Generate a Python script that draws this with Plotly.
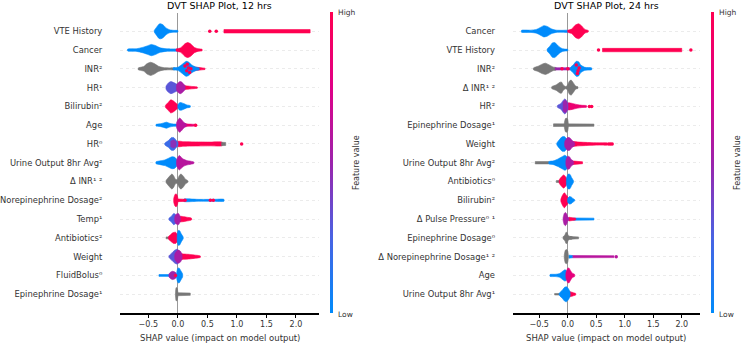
import plotly.graph_objects as go
from plotly.colors import sample_colorscale

W, H = 741, 347
FONT = "DejaVu Sans"
SCALE = [[0, 'rgb(0,139,251)'], [0.25, 'rgb(73,99,227)'], [0.5, 'rgb(156,35,172)'],
         [0.75, 'rgb(224,0,135)'], [1, 'rgb(255,0,81)']]
GRAY = 'rgb(119,119,119)'

tick_vals = [-0.5, 0.0, 0.5, 1.0, 1.5, 2.0]
tick_text = ['\u22120.5', '0.0', '0.5', '1.0', '1.5', '2.0']

# ---------------- 12 hrs ----------------
features_12 = ["VTE History", "Cancer", "INR²", "HR¹", "Bilirubin²", "Age", "HR⁰",
               "Urine Output 8hr Avg²", "Δ INR¹ ²", "Norepinephrine Dosage²", "Temp¹",
               "Antibiotics²", "Weight", "FluidBolus⁰", "Epinephrine Dosage¹"]

# blobs: (feature value colour 0..1 or None=gray, shap x knots, half-height knots)
blobs_12 = [
    [(0, [-0.40, -0.36, -0.32, -0.29, -0.25, -0.20, -0.14, -0.07, 0.0], [0.04, 0.22, 0.38, 0.40, 0.34, 0.18, 0.08, 0.05, 0.04]),
     (1, [0.78, 2.24], [0.09, 0.09])],
    [(0, [-0.85, -0.70, -0.60, -0.52, -0.45, -0.38, -0.30, -0.20, -0.10, 0.0], [0.05, 0.07, 0.14, 0.22, 0.30, 0.24, 0.12, 0.07, 0.06, 0.05]),
     (1, [-0.03, 0.05, 0.12, 0.17, 0.22, 0.28, 0.34, 0.41], [0.05, 0.12, 0.34, 0.40, 0.32, 0.14, 0.07, 0.04])],
    [(None, [-0.67, -0.58, -0.52, -0.46, -0.40, -0.33, -0.25, -0.15, -0.05], [0.05, 0.12, 0.28, 0.35, 0.28, 0.14, 0.07, 0.05, 0.05]),
     (1, [0.25, 0.33, 0.42, 0.46], [0.10, 0.08, 0.05, 0.03]),
     (0, [-0.08, 0.0, 0.08, 0.14, 0.18, 0.23, 0.30, 0.36], [0.05, 0.08, 0.26, 0.40, 0.36, 0.22, 0.10, 0.05])],
    [(0.3, [-0.20, -0.16, -0.12, -0.08, -0.04, 0.0], [0.08, 0.25, 0.32, 0.28, 0.22, 0.15]),
     (1, [0.08, 0.15, 0.25, 0.33], [0.12, 0.09, 0.06, 0.03]),
     (0.55, [-0.02, 0.02, 0.05, 0.09, 0.12], [0.15, 0.30, 0.32, 0.22, 0.10])],
    [(1, [-0.21, -0.16, -0.12, -0.08, -0.04, 0.0], [0.05, 0.22, 0.35, 0.30, 0.20, 0.08]),
     (0, [0.0, 0.03, 0.06, 0.10, 0.15, 0.21], [0.08, 0.20, 0.20, 0.15, 0.08, 0.04])],
    [(0, [-0.37, -0.30, -0.24, -0.19, -0.14, -0.08, 0.0], [0.04, 0.07, 0.12, 0.16, 0.10, 0.06, 0.05]),
     (0.85, [0.10, 0.18, 0.26, 0.32], [0.08, 0.06, 0.05, 0.03]),
     (0.6, [-0.02, 0.01, 0.03, 0.06, 0.10, 0.14], [0.15, 0.32, 0.38, 0.30, 0.15, 0.06])],
    [(1, [0.0, 0.10, 0.30, 0.55, 0.75], [0.14, 0.12, 0.11, 0.10, 0.09]),
     (None, [0.74, 0.81], [0.09, 0.08]),
     (0.2, [-0.22, -0.16, -0.11, -0.07, -0.03, 0.0], [0.05, 0.18, 0.34, 0.34, 0.20, 0.10]),
     (0.45, [-0.12, -0.07, -0.03], [0.15, 0.22, 0.12])],
    [(0, [-0.37, -0.30, -0.22, -0.15, -0.10, -0.06, -0.02], [0.05, 0.10, 0.15, 0.25, 0.32, 0.30, 0.18]),
     (0.6, [-0.02, 0.01, 0.03, 0.06, 0.10, 0.15, 0.22, 0.27], [0.15, 0.35, 0.38, 0.28, 0.18, 0.12, 0.08, 0.04])],
    [(None, [-0.20, -0.15, -0.10, -0.07, -0.04, -0.01, 0.02, 0.05, 0.09, 0.13, 0.17], [0.05, 0.25, 0.40, 0.30, 0.12, 0.10, 0.30, 0.40, 0.30, 0.12, 0.04])],
    [(0, [0.10, 0.35, 0.60, 0.78], [0.06, 0.05, 0.05, 0.05]),
     (1, [0.0, 0.05, 0.10], [0.07, 0.06, 0.06]),
     (1, [-0.07, -0.05, -0.03, -0.01, 0.0], [0.10, 0.30, 0.35, 0.25, 0.10])],
    [(0.25, [-0.15, -0.11, -0.07, -0.04, -0.01], [0.05, 0.15, 0.30, 0.25, 0.12]),
     (1, [0.02, 0.08, 0.15, 0.23], [0.14, 0.14, 0.10, 0.05]),
     (0.55, [-0.05, -0.02, 0.01, 0.04], [0.15, 0.28, 0.30, 0.12])],
    [(None, [-0.20, -0.15], [0.05, 0.05]),
     (1, [-0.16, -0.12, -0.08, -0.04, 0.0], [0.06, 0.18, 0.28, 0.30, 0.15]),
     (0, [-0.01, 0.01, 0.03, 0.06, 0.09], [0.20, 0.40, 0.38, 0.20, 0.05])],
    [(0.3, [-0.15, -0.10, -0.05, -0.01, 0.02, 0.05], [0.05, 0.20, 0.35, 0.40, 0.30, 0.12]),
     (1, [0.03, 0.10, 0.20, 0.30, 0.38], [0.16, 0.14, 0.12, 0.08, 0.04]),
     (0.55, [-0.05, 0.0, 0.04, 0.07], [0.15, 0.35, 0.30, 0.12])],
    [(0, [-0.32, -0.22, -0.14], [0.05, 0.05, 0.05]),
     (0.5, [-0.15, -0.12, -0.09, -0.05, -0.02], [0.08, 0.18, 0.22, 0.18, 0.08]),
     (0, [-0.02, 0.0, 0.02, 0.05, 0.08], [0.15, 0.38, 0.40, 0.25, 0.08])],
    [(None, [-0.02, 0.10, 0.21], [0.08, 0.08, 0.06]),
     (None, [-0.04, -0.03, -0.02, -0.01, 0.0], [0.10, 0.35, 0.35, 0.30, 0.10])],
]

# dots: (colour, x values, vertical offsets)
dots_12 = [
    [(1, [0.54, 0.65], [0, 0])],
    [],
    [(1, [0.12, 0.15, 0.18, 0.20, 0.22, 0.16], [-0.15, 0.1, -0.05, 0.2, 0.0, -0.25])],
    [],
    [],
    [(1, [0.30], [0])],
    [(1, [1.08], [0])],
    [],
    [],
    [(1, [0.12, 0.55, 0.60], [0, 0, 0])],
    [], [], [],
    [(1, [-0.04], [0])],
    [],
]

# ---------------- 24 hrs ----------------
features_24 = ["Cancer", "VTE History", "INR²", "Δ INR¹ ²", "HR²", "Epinephrine Dosage¹", "Weight",
               "Urine Output 8hr Avg²", "Antibiotics⁰", "Bilirubin²", "Δ Pulse Pressure⁰ ¹",
               "Epinephrine Dosage⁰", "Δ Norepinephrine Dosage¹ ²", "Age", "Urine Output 8hr Avg¹"]

blobs_24 = [
    [(0, [-0.81, -0.65, -0.55, -0.47, -0.42, -0.36, -0.28, -0.20, -0.10, 0.0], [0.05, 0.06, 0.10, 0.22, 0.30, 0.26, 0.12, 0.06, 0.05, 0.05]),
     (1, [0.0, 0.07, 0.13, 0.19, 0.24, 0.30, 0.36], [0.05, 0.12, 0.32, 0.40, 0.30, 0.10, 0.04])],
    [(0, [-0.36, -0.31, -0.27, -0.23, -0.19, -0.14, -0.09, -0.04, 0.0], [0.05, 0.22, 0.38, 0.40, 0.30, 0.15, 0.07, 0.05, 0.04]),
     (1, [0.61, 2.0], [0.09, 0.09])],
    [(None, [-0.60, -0.52, -0.45, -0.39, -0.33, -0.26, -0.20], [0.05, 0.14, 0.25, 0.30, 0.22, 0.10, 0.06]),
     (0.5, [-0.22, -0.10, 0.05], [0.06, 0.06, 0.06]),
     (0, [0.05, 0.10, 0.15, 0.19, 0.23, 0.30, 0.42], [0.08, 0.22, 0.40, 0.38, 0.20, 0.08, 0.05])],
    [(None, [-0.28, -0.20, -0.14, -0.11, -0.08, -0.04, -0.01, 0.03, 0.06, 0.10, 0.14, 0.18], [0.05, 0.15, 0.28, 0.30, 0.15, 0.06, 0.10, 0.35, 0.40, 0.25, 0.08, 0.04])],
    [(0.85, [0.0, 0.08, 0.16, 0.25, 0.33], [0.18, 0.16, 0.10, 0.06, 0.04]),
     (0.3, [-0.18, -0.12, -0.08, -0.05, -0.02, 0.0], [0.05, 0.15, 0.32, 0.40, 0.30, 0.15]),
     (0.5, [-0.08, -0.04, -0.01], [0.25, 0.35, 0.20])],
    [(None, [-0.25, 0.10, 0.46], [0.07, 0.07, 0.06]),
     (None, [-0.06, -0.04, -0.02, 0.0, 0.01], [0.10, 0.35, 0.38, 0.30, 0.10])],
    [(1, [0.08, 0.20, 0.35, 0.55, 0.70], [0.12, 0.10, 0.08, 0.06, 0.05]),
     (0, [-0.19, -0.14, -0.10, -0.06, -0.02, 0.02], [0.05, 0.25, 0.38, 0.40, 0.28, 0.12]),
     (0.55, [-0.05, 0.0, 0.04, 0.08, 0.12], [0.15, 0.35, 0.32, 0.18, 0.08])],
    [(None, [-0.57, -0.45, -0.33], [0.06, 0.06, 0.06]),
     (0, [-0.33, -0.25, -0.17, -0.10, -0.05, -0.01], [0.06, 0.10, 0.20, 0.32, 0.40, 0.30]),
     (1, [0.06, 0.15, 0.26], [0.10, 0.08, 0.05]),
     (0.55, [-0.03, 0.0, 0.03, 0.06, 0.10], [0.15, 0.35, 0.32, 0.18, 0.08])],
    [(None, [-0.20, -0.14], [0.05, 0.05]),
     (1, [-0.15, -0.11, -0.07, -0.03, 0.0], [0.08, 0.25, 0.35, 0.22, 0.08]),
     (0, [-0.02, 0.01, 0.04, 0.07, 0.10], [0.20, 0.40, 0.38, 0.20, 0.05])],
    [(1, [-0.12, -0.09, -0.06, -0.03, 0.0, 0.02], [0.06, 0.28, 0.40, 0.30, 0.18, 0.08]),
     (0, [0.0, 0.03, 0.06, 0.09, 0.12], [0.10, 0.20, 0.18, 0.10, 0.04])],
    [(0, [0.10, 0.30, 0.46], [0.06, 0.06, 0.05]),
     (1, [0.02, 0.08, 0.14], [0.10, 0.08, 0.05]),
     (0.55, [-0.08, -0.06, -0.04, -0.02, 0.0, 0.02], [0.08, 0.30, 0.35, 0.28, 0.12, 0.06])],
    [(None, [0.04, 0.12, 0.19], [0.07, 0.06, 0.05]),
     (None, [-0.08, -0.05, -0.03, -0.01, 0.01, 0.04, 0.08], [0.06, 0.15, 0.30, 0.28, 0.12, 0.08, 0.06])],
    [(0.6, [0.08, 0.40, 0.81], [0.06, 0.06, 0.05]),
     (0, [0.02, 0.05, 0.08], [0.08, 0.08, 0.06]),
     (None, [-0.06, -0.04, -0.02, 0.0, 0.01], [0.10, 0.35, 0.38, 0.30, 0.10])],
    [(0, [-0.31, -0.22, -0.14, -0.09, -0.05, -0.02, 0.0], [0.05, 0.06, 0.10, 0.22, 0.30, 0.25, 0.12]),
     (0.8, [-0.03, 0.0, 0.02, 0.05, 0.08, 0.12], [0.15, 0.38, 0.40, 0.25, 0.12, 0.06])],
    [(None, [-0.23, -0.15], [0.04, 0.04]),
     (1, [0.02, 0.06, 0.10, 0.14], [0.14, 0.12, 0.08, 0.04]),
     (0, [-0.15, -0.10, -0.05, -0.02, 0.01, 0.04], [0.05, 0.20, 0.38, 0.40, 0.30, 0.12])],
]

dots_24 = [
    [],
    [(1, [0.54, 2.16], [0, 0])],
    [(1, [0.15, 0.18, 0.20, 0.17, -0.10, 0.0], [-0.2, 0.1, -0.05, 0.25, 0, 0])],
    [],
    [(1, [0.38, 0.42], [0, 0])],
    [],
    [(1, [0.72, 0.75, 0.78], [0, 0, 0])],
    [], [], [], [], [],
    [(0.6, [0.85], [0])],
    [], [],
]


def colour(v):
    return GRAY if v is None else sample_colorscale(SCALE, [v])[0]


fig = go.Figure()


def add_panel(blobs, dots, xa, ya):
    for k, (fb, fd) in enumerate(zip(blobs, dots)):
        for cval, xs, hs in fb:
            c = colour(cval)
            px = list(xs) + list(xs[::-1]) + [xs[0]]
            py = [k - h for h in hs] + [k + h for h in hs[::-1]] + [k - hs[0]]
            shape = 'spline' if len(xs) > 3 else 'linear'
            fig.add_trace(go.Scatter(x=px, y=py, xaxis=xa, yaxis=ya, mode='lines', fill='toself',
                                     fillcolor=c, line=dict(color=c, width=0.6, shape=shape, smoothing=0.6),
                                     hoverinfo='skip', showlegend=False))
        for cval, xs, dys in fd:
            c = colour(cval)
            fig.add_trace(go.Scatter(x=xs, y=[k + d for d in dys], xaxis=xa, yaxis=ya, mode='markers',
                                     marker=dict(color=c, size=3.5), hoverinfo='skip', showlegend=False))


add_panel(blobs_12, dots_12, 'x', 'y')
add_panel(blobs_24, dots_24, 'x2', 'y2')

# colour bars
y_bot, y_top = 313, 12
cb_len = (y_bot - y_top) / H
cb_y = 1 - (y_bot + y_top) / 2 / H
for xpx in (330, 711):
    fig.add_trace(go.Scatter(x=[None, None], y=[None, None], mode='markers', showlegend=False,
                             marker=dict(color=[0, 1], cmin=0, cmax=1, colorscale=SCALE, showscale=True,
                                         colorbar=dict(x=xpx / W, xanchor='left', xpad=0, ypad=0,
                                                       y=cb_y, yanchor='middle', len=cb_len, lenmode='fraction',
                                                       thickness=3, outlinewidth=0, showticklabels=False,
                                                       ticks=''))))

N = len(features_12)
ydom = [1 - y_bot / H, 1 - 12.5 / H]
xdom1 = [120 / W, 319 / W]
xdom2 = [512.7 / W, 700 / W]

xcommon = dict(tickvals=tick_vals, ticktext=tick_text, showline=True, linecolor='black', linewidth=1.5,
               ticks='outside', ticklen=3, tickcolor='black', tickfont=dict(size=8, color='#333333', family=FONT),
               zeroline=True, zerolinecolor='#999999', zerolinewidth=1, showgrid=False, fixedrange=True,
               automargin=False)
ycommon = dict(tickvals=list(range(N)), range=[N, -1], showgrid=True, gridcolor='#ebebeb', gridwidth=0.5,
               griddash='dot', zeroline=False, showline=False, ticks='outside', ticklen=15,
               tickcolor='rgba(0,0,0,0)', tickfont=dict(size=8.4, color='#333333', family=FONT), fixedrange=True,
               automargin=False)

fig.update_layout(
    template='none',
    width=W, height=H, margin=dict(l=0, r=0, t=0, b=0, pad=0, autoexpand=False),
    paper_bgcolor='white', plot_bgcolor='white', font=dict(family=FONT),
    xaxis=dict(domain=xdom1, range=[-0.98, 2.39], anchor='y', **xcommon),
    yaxis=dict(domain=ydom, anchor='x', ticktext=features_12, **ycommon),
    xaxis2=dict(domain=xdom2, range=[-0.965, 2.32], anchor='y2', **xcommon),
    yaxis2=dict(domain=ydom, anchor='x2', ticktext=features_24, **ycommon),
)

ann = []
for xd, title, cbx in ((xdom1, "DVT SHAP Plot, 12 hrs", 330), (xdom2, "DVT SHAP Plot, 24 hrs", 711)):
    cx = (xd[0] + xd[1]) / 2
    ann.append(dict(x=cx, y=1 - 6 / H, xref='paper', yref='paper', text=title, showarrow=False,
                    xanchor='center', yanchor='middle', font=dict(size=9.5, color='black', family=FONT)))
    ann.append(dict(x=cx, y=1 - 338 / H, xref='paper', yref='paper', text="SHAP value (impact on model output)",
                    showarrow=False, xanchor='center', yanchor='middle', font=dict(size=8.5, color='#333333', family=FONT)))
    ann.append(dict(x=(cbx + 6) / W, y=1 - 12 / H, xref='paper', yref='paper', text="High", showarrow=False,
                    xanchor='left', yanchor='middle', font=dict(size=7.5, color='#333333', family=FONT)))
    ann.append(dict(x=(cbx + 6) / W, y=1 - 314 / H, xref='paper', yref='paper', text="Low", showarrow=False,
                    xanchor='left', yanchor='middle', font=dict(size=7.5, color='#333333', family=FONT)))
    ann.append(dict(x=(cbx + 26) / W, y=1 - 163 / H, xref='paper', yref='paper', text="Feature value",
                    showarrow=False, textangle=-90, xanchor='center', yanchor='middle',
                    font=dict(size=8, color='#333333', family=FONT)))
fig.update_layout(annotations=ann)

fig.write_html("out.html", post_script="document.body.style.margin='0px';",
               config={'displayModeBar': False})
